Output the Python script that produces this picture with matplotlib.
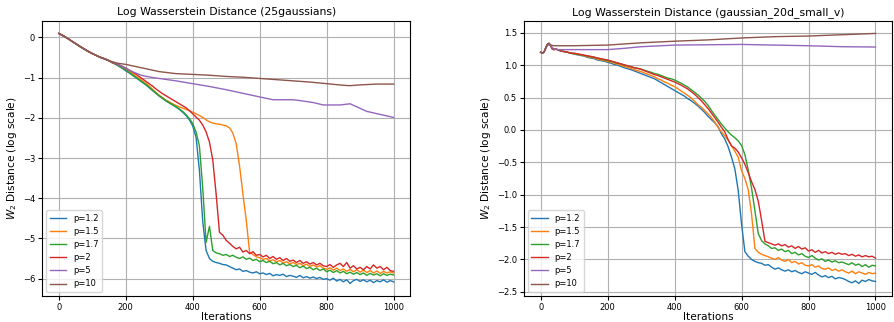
import matplotlib
matplotlib.use('Agg')
import matplotlib.pyplot as plt

# labels
labels = ['p=1.2', 'p=1.5', 'p=1.7', 'p=2', 'p=5', 'p=10']
colors = ['tab:blue', 'tab:orange', 'tab:green', 'tab:red', 'tab:purple', 'tab:brown']

# ---- left panel: 25gaussians ----
iters_a = list(range(0, 1001, 10))
head_a = [0.10, 0.06, 0.01, -0.04, -0.10, -0.15, -0.21, -0.26, -0.31, -0.36,
          -0.40, -0.44, -0.48, -0.51, -0.54, -0.58]

blue_a = head_a + [
    -0.63, -0.67, -0.72, -0.77, -0.83, -0.88, -0.94, -1.00, -1.06, -1.12,
    -1.18, -1.25, -1.32, -1.39, -1.46, -1.52, -1.58, -1.63, -1.68, -1.73,
    -1.79, -1.86, -1.94, -2.05, -2.20, -2.48, -3.30, -4.58, -5.30, -5.50,
    -5.57, -5.60, -5.62, -5.65, -5.66, -5.70, -5.74, -5.78, -5.76, -5.82,
    -5.80, -5.84, -5.86, -5.83, -5.88, -5.86, -5.90, -5.87, -5.93, -5.90,
    -5.92, -5.89, -5.95, -5.92, -5.94, -5.97, -5.92, -5.98, -5.95, -5.99,
    -5.96, -6.00, -5.97, -6.02, -6.00, -6.04, -5.99, -6.06, -6.02, -6.08,
    -6.03, -6.12, -6.05, -6.02, -6.07, -6.03, -6.08, -6.04, -6.10, -6.05,
    -6.08, -6.03, -6.09, -6.05, -6.08]
orange_a = head_a + [
    -0.63, -0.66, -0.70, -0.75, -0.79, -0.84, -0.90, -0.96, -1.02, -1.08,
    -1.14, -1.21, -1.29, -1.37, -1.44, -1.50, -1.56, -1.60, -1.65, -1.69,
    -1.73, -1.76, -1.79, -1.82, -1.86, -1.90, -1.94, -1.99, -2.05, -2.10,
    -2.13, -2.15, -2.16, -2.18, -2.20, -2.25, -2.38, -2.65, -3.20, -3.90,
    -4.55, -5.35, -5.40, -5.46, -5.48, -5.52, -5.50, -5.56, -5.53, -5.58,
    -5.55, -5.61, -5.58, -5.63, -5.60, -5.65, -5.62, -5.68, -5.64, -5.70,
    -5.66, -5.71, -5.68, -5.74, -5.77, -5.73, -5.79, -5.74, -5.80, -5.76,
    -5.82, -5.77, -5.83, -5.78, -5.84, -5.79, -5.85, -5.80, -5.86, -5.81,
    -5.87, -5.82, -5.86, -5.83, -5.86]
green_a = head_a + [
    -0.63, -0.66, -0.71, -0.76, -0.81, -0.87, -0.93, -0.99, -1.05, -1.11,
    -1.17, -1.24, -1.31, -1.38, -1.45, -1.51, -1.57, -1.62, -1.67, -1.72,
    -1.78, -1.84, -1.92, -2.02, -2.14, -2.35, -2.70, -3.75, -5.10, -4.70,
    -5.30, -5.36, -5.38, -5.42, -5.40, -5.45, -5.42, -5.47, -5.50, -5.46,
    -5.52, -5.49, -5.55, -5.52, -5.58, -5.55, -5.60, -5.57, -5.63, -5.60,
    -5.66, -5.62, -5.68, -5.65, -5.70, -5.67, -5.73, -5.69, -5.75, -5.72,
    -5.78, -5.74, -5.80, -5.76, -5.83, -5.79, -5.85, -5.80, -5.86, -5.82,
    -5.88, -5.84, -5.89, -5.85, -5.90, -5.86, -5.92, -5.87, -5.91, -5.88,
    -5.93, -5.88, -5.92, -5.89, -5.91]
red_a = head_a + [
    -0.62, -0.65, -0.68, -0.72, -0.76, -0.81, -0.86, -0.91, -0.97, -1.03,
    -1.09, -1.15, -1.21, -1.28, -1.34, -1.40, -1.45, -1.50, -1.55, -1.60,
    -1.65, -1.70, -1.75, -1.82, -1.90, -1.98, -2.06, -2.18, -2.35, -2.60,
    -3.05, -3.90, -4.85, -4.92, -5.05, -5.12, -5.20, -5.26, -5.22, -5.34,
    -5.30, -5.38, -5.33, -5.42, -5.40, -5.46, -5.42, -5.50, -5.45, -5.52,
    -5.48, -5.55, -5.50, -5.57, -5.54, -5.60, -5.55, -5.62, -5.58, -5.64,
    -5.60, -5.66, -5.62, -5.68, -5.70, -5.65, -5.72, -5.66, -5.62, -5.70,
    -5.60, -5.74, -5.68, -5.76, -5.72, -5.78, -5.70, -5.76, -5.66, -5.74,
    -5.70, -5.78, -5.72, -5.80, -5.82]

iters_a5 = [0, 25, 50, 75, 100, 125, 150, 175, 200, 225, 250, 275, 300, 350,
            400, 450, 500, 550, 600, 640, 700, 720, 760, 790, 840, 870, 920, 1000]
purple_a = [0.10, -0.02, -0.15, -0.28, -0.40, -0.50, -0.58, -0.66, -0.77, -0.87,
            -0.95, -0.99, -1.02, -1.08, -1.15, -1.22, -1.30, -1.39, -1.48, -1.55,
            -1.55, -1.57, -1.62, -1.68, -1.68, -1.65, -1.84, -1.99]
iters_a10 = [0, 25, 50, 75, 100, 125, 150, 175, 200, 250, 300, 350, 400, 450,
             500, 550, 600, 650, 700, 750, 800, 850, 870, 900, 950, 1000]
brown_a = [0.10, -0.02, -0.15, -0.28, -0.40, -0.50, -0.58, -0.64, -0.67, -0.76,
           -0.85, -0.90, -0.92, -0.94, -0.97, -0.99, -1.02, -1.05, -1.08, -1.11,
           -1.15, -1.19, -1.20, -1.18, -1.16, -1.16]

# ---- right panel: gaussian_20d_small_v ----
iters_b = list(range(0, 50, 5)) + list(range(50, 1001, 10))
head_b = [1.20, 1.185, 1.20, 1.26, 1.32, 1.335, 1.30, 1.25, 1.24, 1.25,
          1.24, 1.22, 1.21, 1.20, 1.185]

blue_b = head_b + [
    1.17, 1.16, 1.15, 1.14, 1.12, 1.11, 1.10, 1.08, 1.07, 1.06,
    1.045, 1.03, 1.01, 1.00, 0.98, 0.96, 0.945, 0.93, 0.91, 0.89,
    0.87, 0.85, 0.83, 0.81, 0.79, 0.76, 0.73, 0.70, 0.67, 0.64,
    0.61, 0.58, 0.55, 0.52, 0.48, 0.45, 0.41, 0.37, 0.32, 0.27,
    0.21, 0.16, 0.11, 0.05, -0.06, -0.14, -0.26, -0.42, -0.60, -0.93,
    -1.45, -1.88, -1.95, -2.00, -2.03, -2.05, -2.06, -2.09, -2.08, -2.12,
    -2.15, -2.13, -2.16, -2.18, -2.16, -2.19, -2.17, -2.20, -2.22, -2.19,
    -2.21, -2.23, -2.20, -2.24, -2.27, -2.25, -2.28, -2.26, -2.30, -2.28,
    -2.29, -2.31, -2.34, -2.36, -2.33, -2.37, -2.32, -2.34, -2.31, -2.33,
    -2.34]
orange_b = head_b + [
    1.175, 1.165, 1.155, 1.145, 1.13, 1.12, 1.11, 1.095, 1.08, 1.07,
    1.06, 1.045, 1.03, 1.015, 1.00, 0.98, 0.965, 0.95, 0.93, 0.915,
    0.90, 0.88, 0.86, 0.84, 0.82, 0.79, 0.77, 0.74, 0.72, 0.69,
    0.67, 0.635, 0.60, 0.565, 0.53, 0.49, 0.44, 0.39, 0.35, 0.30,
    0.25, 0.19, 0.12, 0.04, -0.03, -0.09, -0.16, -0.24, -0.33, -0.42,
    -0.63, -0.75, -0.92, -1.30, -1.83, -1.89, -1.92, -1.94, -1.96, -1.98,
    -2.00, -1.97, -2.01, -2.03, -2.00, -2.05, -2.03, -2.07, -2.05, -2.09,
    -2.10, -2.08, -2.12, -2.10, -2.14, -2.15, -2.13, -2.17, -2.15, -2.18,
    -2.16, -2.19, -2.21, -2.18, -2.22, -2.19, -2.21, -2.23, -2.20, -2.22,
    -2.21]
green_b = head_b + [
    1.18, 1.17, 1.16, 1.15, 1.14, 1.13, 1.12, 1.11, 1.095, 1.08,
    1.07, 1.06, 1.045, 1.03, 1.02, 1.00, 0.99, 0.975, 0.96, 0.95,
    0.94, 0.92, 0.905, 0.89, 0.87, 0.86, 0.84, 0.82, 0.80, 0.79,
    0.77, 0.745, 0.72, 0.69, 0.66, 0.62, 0.58, 0.54, 0.49, 0.44,
    0.38, 0.30, 0.23, 0.16, 0.09, 0.03, -0.03, -0.08, -0.12, -0.17,
    -0.24, -0.38, -0.62, -0.90, -1.25, -1.60, -1.71, -1.76, -1.79, -1.83,
    -1.82, -1.86, -1.84, -1.88, -1.86, -1.91, -1.89, -1.93, -1.91, -1.95,
    -1.97, -1.94, -1.98, -2.01, -1.99, -2.03, -2.01, -2.04, -2.02, -2.05,
    -2.04, -2.06, -2.08, -2.05, -2.09, -2.07, -2.11, -2.08, -2.12, -2.09,
    -2.10]
red_b = head_b + [
    1.185, 1.175, 1.165, 1.155, 1.145, 1.135, 1.125, 1.11, 1.10, 1.09,
    1.08, 1.065, 1.05, 1.035, 1.02, 1.005, 0.99, 0.975, 0.96, 0.95,
    0.935, 0.915, 0.895, 0.875, 0.855, 0.84, 0.82, 0.80, 0.78, 0.76,
    0.74, 0.715, 0.69, 0.66, 0.63, 0.59, 0.55, 0.50, 0.45, 0.39,
    0.33, 0.26, 0.19, 0.12, 0.04, -0.03, -0.15, -0.25, -0.28, -0.34,
    -0.43, -0.53, -0.66, -0.80, -0.92, -1.10, -1.40, -1.72, -1.74, -1.76,
    -1.78, -1.76, -1.79, -1.77, -1.81, -1.79, -1.83, -1.80, -1.84, -1.82,
    -1.87, -1.85, -1.89, -1.86, -1.90, -1.88, -1.91, -1.89, -1.92, -1.90,
    -1.92, -1.91, -1.94, -1.92, -1.95, -1.93, -1.96, -1.94, -1.96, -1.95,
    -1.98]

iters_b5 = [0, 5, 10, 15, 20, 25, 30, 35, 40, 50, 100, 200, 250, 300, 400,
            500, 600, 700, 800, 900, 1000]
purple_b = [1.20, 1.185, 1.20, 1.25, 1.30, 1.32, 1.31, 1.27, 1.25, 1.24, 1.24,
            1.24, 1.26, 1.285, 1.31, 1.315, 1.32, 1.31, 1.30, 1.285, 1.28]
iters_b10 = [0, 5, 10, 15, 20, 25, 30, 40, 60, 100, 200, 300, 400, 500, 600,
             700, 800, 900, 1000]
brown_b = [1.20, 1.185, 1.20, 1.27, 1.32, 1.34, 1.31, 1.30, 1.30, 1.30, 1.31,
           1.345, 1.37, 1.39, 1.42, 1.44, 1.45, 1.47, 1.49]

panels = [
    ('Log Wasserstein Distance (25gaussians)',
     [(iters_a, blue_a), (iters_a, orange_a), (iters_a, green_a),
      (iters_a, red_a), (iters_a5, purple_a), (iters_a10, brown_a)]),
    ('Log Wasserstein Distance (gaussian_20d_small_v)',
     [(iters_b, blue_b), (iters_b, orange_b), (iters_b, green_b),
      (iters_b, red_b), (iters_b5, purple_b), (iters_b10, brown_b)]),
]

fig = plt.figure(figsize=(8.94, 3.22), dpi=100)
lefts = [0.047, 0.586]
for left, (title, series) in zip(lefts, panels):
    ax = fig.add_axes([left, 0.081, 0.412, 0.854])
    for (x, y), lab, c in zip(series, labels, colors):
        ax.plot(x, y, color=c, lw=1.0, label=lab)
    ax.set_title(title, fontsize=7.8, pad=4)
    ax.set_xlabel('Iterations', fontsize=7.6, labelpad=0)
    ax.set_ylabel('$W_2$ Distance (log scale)', fontsize=7.6, labelpad=3)
    ax.tick_params(labelsize=6, length=3, pad=2)
    ax.grid(True)
    ax.legend(loc='lower left', fontsize=6)

fig.savefig('out.png', dpi=100)
